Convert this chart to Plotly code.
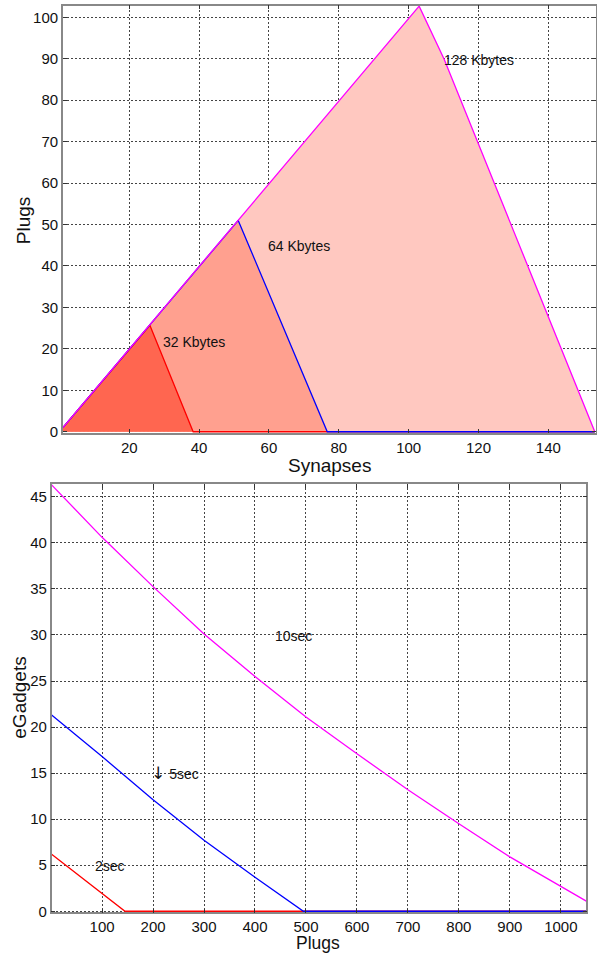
import plotly.graph_objects as go

# ---- top chart data (Synapses vs Plugs) ----
syn_128 = [1, 103.0, 110.2, 153.3]
plg_128 = [1, 102.7, 89.8, 0]
syn_64 = [1, 51.2, 76.7, 153.3]
plg_64 = [1, 51.0, 0, 0]
syn_32 = [1, 25.9, 38.3, 153.3]
plg_32 = [1, 25.7, 0, 0]
top_labels = ["128 Kbytes", "64 Kbytes", "32 Kbytes"]

# ---- bottom chart data (Plugs vs eGadgets) ----
plugs_10 = [1, 100, 200, 300, 400, 500, 600, 700, 800, 900, 1000, 1050]
gad_10 = [46.3, 40.6, 35.25, 30.1, 25.5, 21.1, 17.1, 13.2, 9.5, 5.9, 2.7, 1.1]
plugs_5 = [1, 100, 200, 300, 400, 495, 1050]
gad_5 = [21.3, 16.8, 12.1, 7.7, 3.7, 0, 0]
plugs_2 = [1, 145, 1050]
gad_2 = [6.2, 0, 0]
bottom_labels = ["10sec",
                 "<span style=\"font-family:'DejaVu Sans';font-size:17px\">\u2193</span> 5sec",
                 "2sec"]

W, H = 597, 953      # reference pixel grid
HF = 961             # rendered page height (maps onto the 953 grid)
FONT = "Liberation Sans, Arial, sans-serif"

fig = go.Figure()

# fills (top)
fill_cols = ["#FFC8C0", "#FFA08F", "#FF6650"]
for xs, ys, fc in [(syn_128, plg_128, fill_cols[0]),
                   (syn_64, plg_64, fill_cols[1]),
                   (syn_32, plg_32, fill_cols[2])]:
    fig.add_trace(go.Scatter(x=xs, y=ys, mode="lines", fill="tozeroy",
                             fillcolor=fc, line=dict(width=0),
                             xaxis="x", yaxis="y", showlegend=False,
                             hoverinfo="skip"))
# lines (top)
for xs, ys, lc in [(syn_32, plg_32, "#FF0000"),
                   (syn_64, plg_64, "#0000FF"),
                   (syn_128, plg_128, "#FF00FF")]:
    fig.add_trace(go.Scatter(x=xs, y=ys, mode="lines",
                             line=dict(color=lc, width=1.3),
                             xaxis="x", yaxis="y", showlegend=False))

# lines (bottom)
for xs, ys, lc in [(plugs_10, gad_10, "#FF00FF"),
                   (plugs_2, gad_2, "#FF0000"),
                   (plugs_5, gad_5, "#0000FF")]:
    fig.add_trace(go.Scatter(x=xs, y=ys, mode="lines",
                             line=dict(color=lc, width=1.3),
                             xaxis="x2", yaxis="y2", showlegend=False))

def px_x(p):
    return p / W

def px_y(p):
    return 1 - p / H

axis_common = dict(showline=True, linecolor="#888888", linewidth=1.5,
                   mirror="ticks", ticks="inside", ticklen=4,
                   tickcolor="#333333",
                   showgrid=True, gridcolor="#444444", gridwidth=1,
                   griddash="2px,2px", zeroline=False,
                   tickfont=dict(family=FONT, size=15, color="#111111"))

fig.update_layout(
    width=W, height=HF,
    margin=dict(l=0, r=0, t=0, b=0),
    paper_bgcolor="white", plot_bgcolor="white",
    font=dict(family=FONT, color="#111111"),
    xaxis=dict(domain=[px_x(63), px_x(596.5)], range=[1, 153.5],
               tickvals=[20, 40, 60, 80, 100, 120, 140],
               anchor="y", **axis_common),
    yaxis=dict(domain=[px_y(432.5), px_y(5.5)], range=[-0.29, 102.85],
               tickvals=list(range(0, 101, 10)),
               anchor="x", **axis_common),
    xaxis2=dict(domain=[px_x(51.7), px_x(587.3)], range=[1, 1050],
                tickvals=list(range(100, 1001, 100)),
                anchor="y2", **axis_common),
    yaxis2=dict(domain=[px_y(911.5), px_y(483.5)], range=[-0.13, 46.39],
                tickvals=list(range(0, 46, 5)),
                anchor="x2", **axis_common),
)

# axis titles as paper annotations
titles = [("Synapses", 330, 465, 0, 19, "middle"),
          ("Plugs", 23, 220, -90, 19, "middle"),
          ("eGadgets", 20, 697, -90, 19, "middle")]
for txt, tx, ty, ang, fs, ya in titles:
    fig.add_annotation(x=px_x(tx), y=px_y(ty), xref="paper", yref="paper",
                       text=txt, showarrow=False, textangle=ang,
                       xanchor="center", yanchor=ya, borderpad=0,
                       font=dict(family=FONT, size=fs, color="#111111"))
# bottom x title sits on the lower page edge
fig.add_annotation(x=px_x(319), y=0, xref="paper", yref="paper",
                   text="Plugs", showarrow=False,
                   xanchor="center", yanchor="bottom", borderpad=0,
                   font=dict(family=FONT, size=17.5, color="#111111"))

top_pos = [(110.2, 89.6), (59.8, 44.8), (29.6, 21.7)]
for (tx, ty), txt in zip(top_pos, top_labels):
    fig.add_annotation(x=tx, y=ty, xref="x", yref="y", text=txt,
                       showarrow=False, xanchor="left", yanchor="middle",
                       xshift=-2,
                       font=dict(family=FONT, size=14, color="#111111"))

bot_pos = [(439, 29.85), (196, 15.0), (87, 4.9)]
for (tx, ty), txt in zip(bot_pos, bottom_labels):
    fig.add_annotation(x=tx, y=ty, xref="x2", yref="y2", text=txt,
                       showarrow=False, xanchor="left", yanchor="middle",
                       xshift=-2,
                       font=dict(family=FONT, size=14, color="#111111"))

post = (
    "var gd=document.getElementById('{plot_id}');"
    "var p=gd.parentElement;"
    "p.style.height='%dpx';p.style.overflow='hidden';"
    "document.body.style.margin='0px';"
    "document.body.style.height='%dpx';"
    "document.body.style.overflow='hidden';"
    "document.documentElement.style.height='%dpx';"
    "document.documentElement.style.overflow='hidden';"
) % (HF, HF, HF)
fig.write_html("out.html", config={"displayModeBar": False}, post_script=post)
